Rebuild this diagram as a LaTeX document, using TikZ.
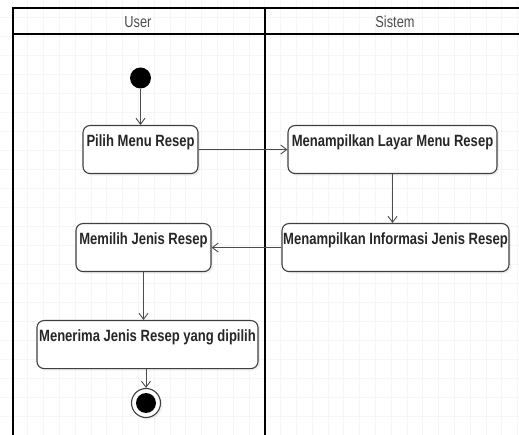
\documentclass[tikz,border=0pt]{standalone}
\usepackage{fontspec}
\setmainfont{Liberation Sans}
\newfontfamily\narrowfont[FakeStretch=0.8]{Liberation Sans}
\usetikzlibrary{arrows.meta,shadows}

\begin{document}
\begin{tikzpicture}[x=1pt,y=-1pt,
  act/.style={draw=black!75,line width=1.1pt,rounded corners=7pt,fill=white,
    inner sep=0pt,text height=21pt,text depth=27pt,text=black!85,
    font=\narrowfont\bfseries\fontsize{16.3}{18}\selectfont,
    drop shadow={opacity=0.12,shadow xshift=2pt,shadow yshift=-2pt}},
  flow/.style={draw=black!70,line width=0.9pt,-{Straight Barb[length=6pt,width=9pt]}},
  lane/.style={line width=1.8pt},
  head/.style={font=\narrowfont\fontsize{16}{18}\selectfont,text=black!70}]
  \useasboundingbox (0,0) rectangle (519,435);
  \clip (0,0) rectangle (519,435);

  % grid
  \foreach \i in {0,...,33} \draw[black!4,line width=0.6pt] (11.8+15.8*\i,0) -- (11.8+15.8*\i,435);
  \foreach \j in {0,...,22} \draw[black!4,line width=0.6pt] (0,17+19*\j) -- (519,17+19*\j);

  % swimlanes
  \draw[lane] (13,450) -- (13,8) -- (530,8);
  \draw[lane] (13,34) -- (530,34);
  \draw[lane] (265,8) -- (265,450);
  \node[head] (user) at (138,22) {User};
  \node[head] (sistem) at (395,22) {Sistem};

  % activities
  \node[circle,fill=black,minimum size=21pt,inner sep=0pt] (start) at (140.5,78) {};
  \node[act,minimum width=115pt] (pilih) at (140.5,125) [anchor=north] {Pilih Menu Resep};
  \node[act,minimum width=209pt] (layar) at (392.5,125) [anchor=north] {Menampilkan Layar Menu Resep};
  \node[act,minimum width=227pt] (info) at (395.5,223) [anchor=north] {Menampilkan Informasi Jenis Resep};
  \node[act,minimum width=135pt] (memilih) at (143.5,223) [anchor=north] {Memilih Jenis Resep};
  \node[act,minimum width=221pt] (terima) at (147.5,320) [anchor=north] {Menerima Jenis Resep yang dipilih};
  \node[circle,draw=black!75,line width=1.1pt,fill=white,minimum size=29pt,inner sep=0pt,
    drop shadow={opacity=0.12,shadow xshift=2pt,shadow yshift=-2pt}] (akhir) at (146,403) {};
  \fill (akhir) circle (10pt);

  % flows
  \draw[flow] (start) -- (pilih);
  \draw[flow] (pilih) -- (layar);
  \draw[flow] (layar.south) -- (layar.south |- info.north);
  \draw[flow] (info) -- (memilih);
  \draw[flow] (memilih.south) -- (memilih.south |- terima.north);
  \draw[flow] (akhir |- terima.south) -- (akhir);
\end{tikzpicture}
\end{document}
